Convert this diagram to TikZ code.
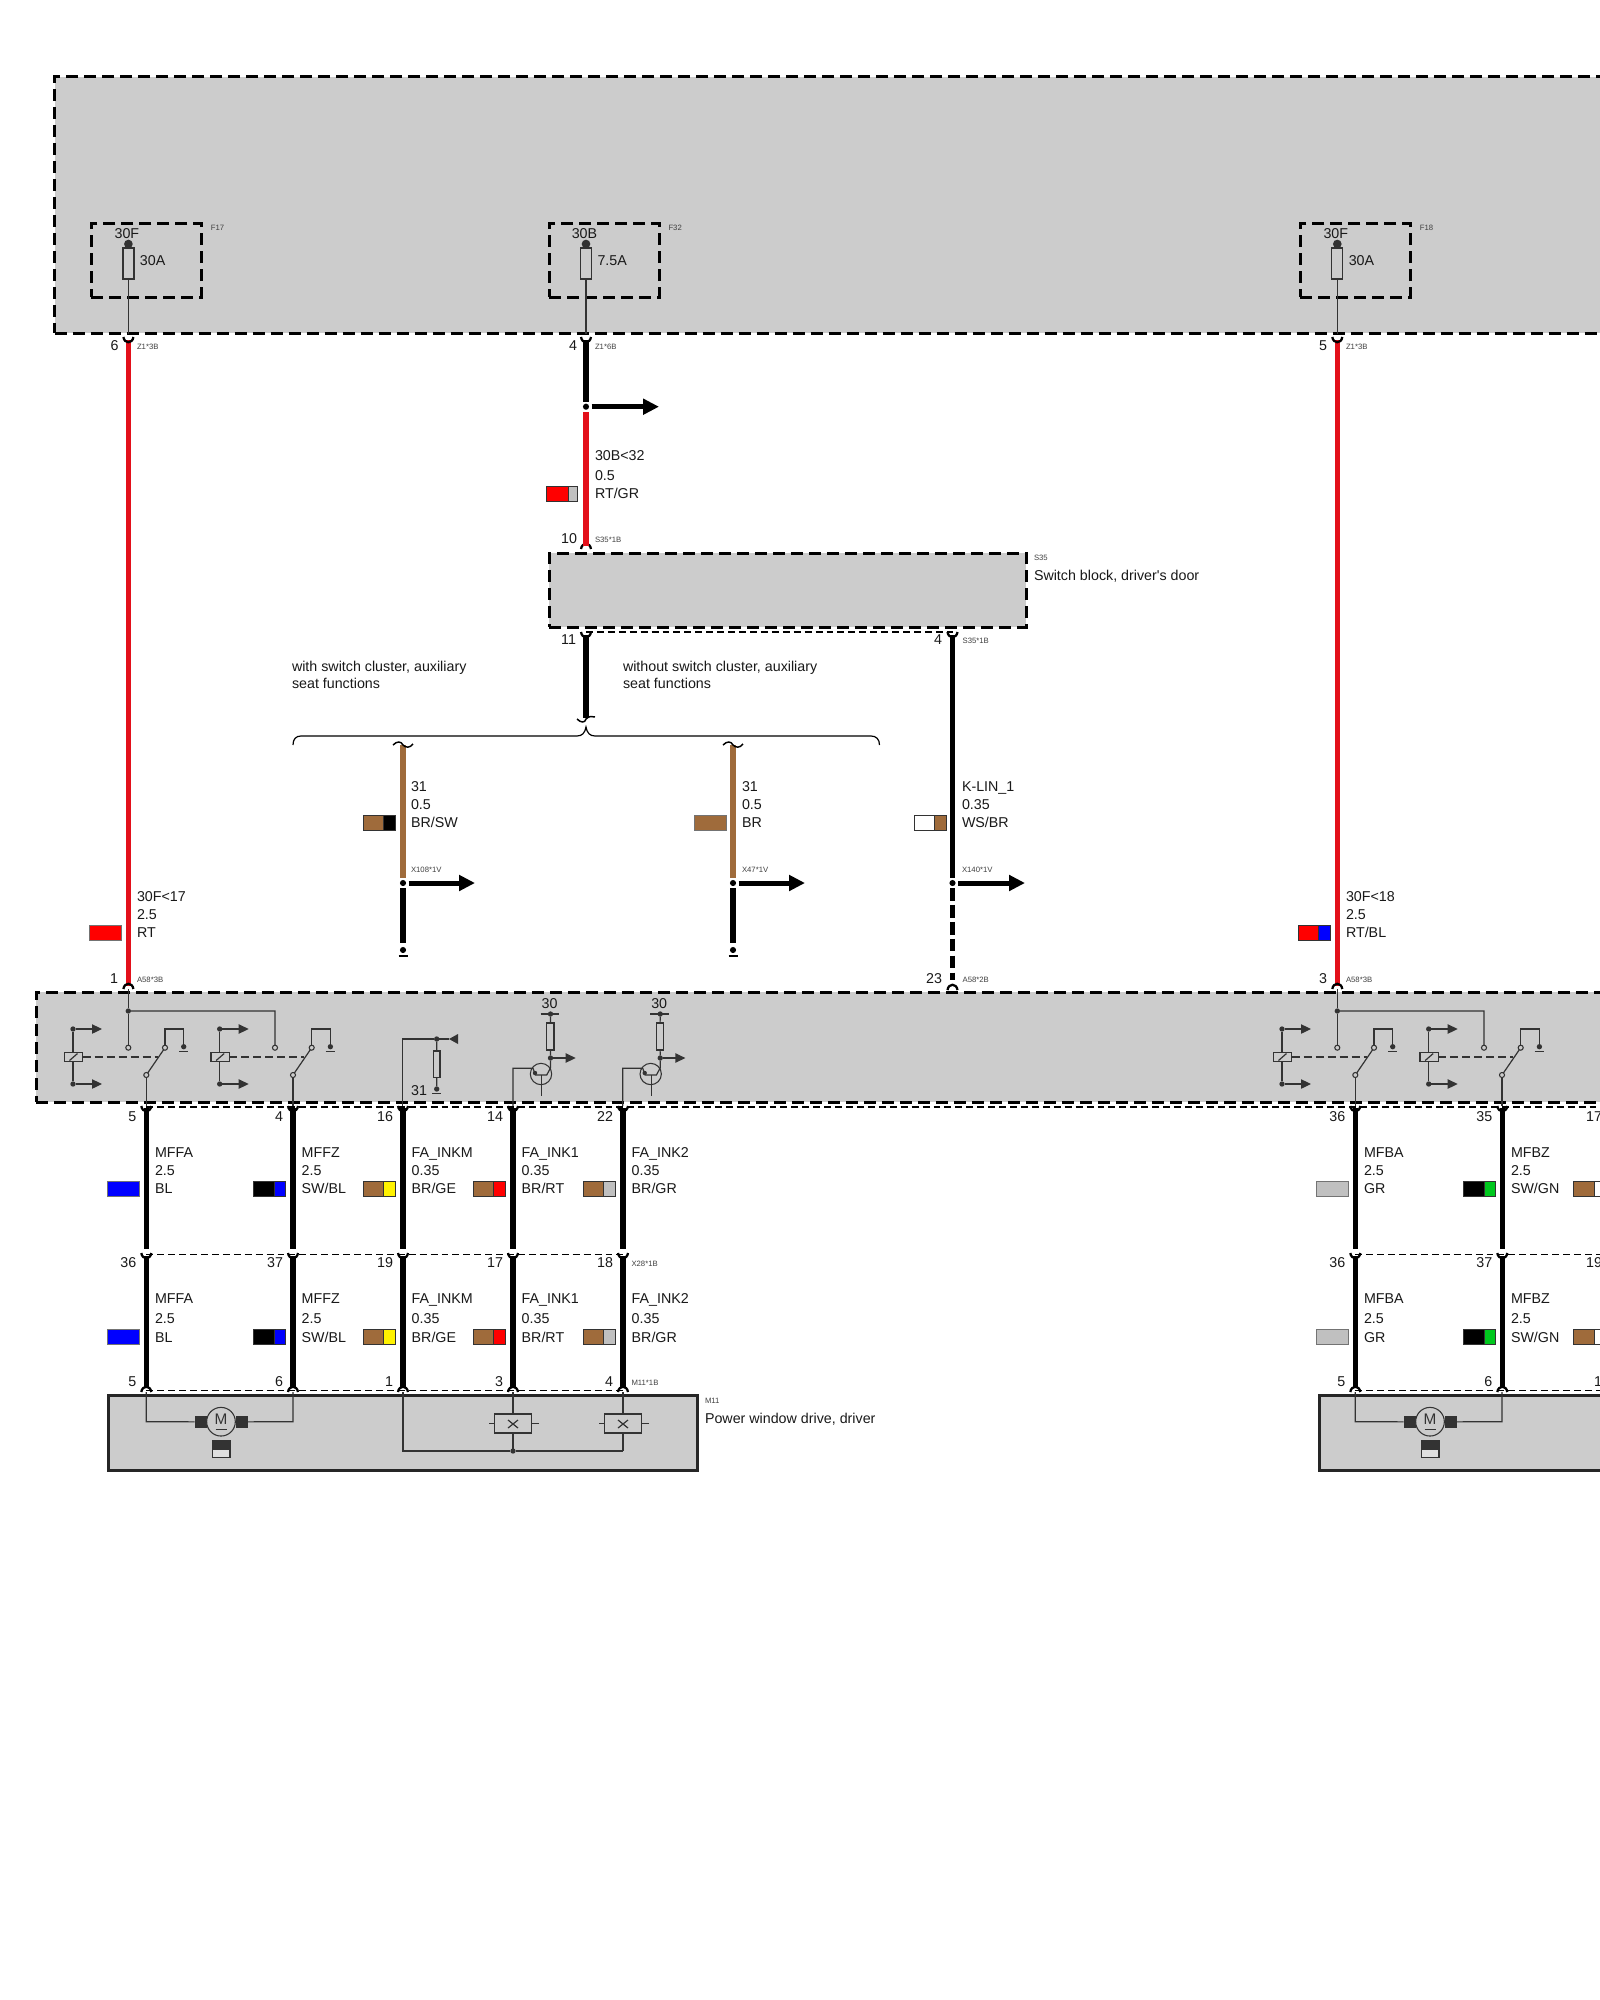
\documentclass[tikz,border=0pt]{standalone}
\usepackage{fontspec}
\newfontfamily\arialf{Liberation Sans}
\usetikzlibrary{arrows.meta}
\definecolor{boxgray}{HTML}{CCCCCC}
\definecolor{wirered}{HTML}{E3101A}
\definecolor{wirebrown}{HTML}{9F6B3B}
\definecolor{inkgray}{HTML}{333333}
\definecolor{swgray}{HTML}{C0C0C0}
\definecolor{swgreen}{HTML}{00C81E}
\tikzset{
 txt/.style={inner sep=0pt,outer sep=0pt,anchor=west,text height=7.6pt,text depth=0pt,font=\arialf\fontsize{10.7}{12}\selectfont,text=black!90},
 numr/.style={txt,anchor=east},
 numc/.style={txt,anchor=center},
 tiny/.style={inner sep=0pt,outer sep=0pt,anchor=west,text height=4.3pt,text depth=0pt,font=\arialf\fontsize{5.8}{7}\selectfont,text=black!75},
 dashbox/.style={draw=black,fill=boxgray,line width=2.25pt,dash pattern=on 9pt off 4.5pt,inner sep=0pt,outer sep=0pt},
 solidbox/.style={draw=black!85,fill=boxgray,line width=2.25pt,inner sep=0pt,outer sep=0pt},
 plainbox/.style={draw=inkgray,fill=boxgray,line width=0.9pt,inner sep=0pt,outer sep=0pt},
 blackw/.style={draw=black,line width=4.1pt},
 redw/.style={draw=wirered,line width=4.1pt},
 brownw/.style={draw=wirebrown,line width=4.1pt},
 thinw/.style={draw=inkgray,line width=0.9pt},
 thindash/.style={draw=black,line width=0.8pt,dash pattern=on 5.2pt off 3pt},
 reldash/.style={draw=inkgray,line width=0.8pt,dash pattern=on 6pt off 3pt},
 plugline/.style={draw=black,line width=1.7pt},
 bigarrow/.style={draw=black,line width=3.75pt,-{Triangle[length=12pt,width=11.5pt]}},
 smallarrow/.style={draw=inkgray,line width=0.9pt,-{Triangle[length=7.5pt,width=7pt]}},
 dotn/.style={circle,fill=#1,inner sep=0pt,minimum size=4.6pt,outer sep=0pt},
 dotn/.default=black,
 condot/.style={circle,fill=inkgray,inner sep=0pt,minimum size=4pt,outer sep=0pt},
 contact/.style={circle,draw=inkgray,fill=boxgray,line width=0.8pt,inner sep=0pt,minimum size=3.8pt,outer sep=0pt},
}
% box from corner to corner, in pixels
\newcommand{\bx}[6]{%
 \pgfmathsetmacro{\bxw}{((#5)-(#3))*0.75}\pgfmathsetmacro{\bxh}{((#6)-(#4))*0.75}%
 \pgfmathsetmacro{\bxx}{((#3)+(#5))/2}\pgfmathsetmacro{\bxy}{((#4)+(#6))/2}%
 \node[#2,minimum width=\bxw pt,minimum height=\bxh pt] (#1) at (\bxx,\bxy) {};}
\newcommand{\plugU}[2]{\draw[plugline] ({#1-5},{#2-5}) .. controls ({#1-4},{#2+2}) and ({#1+4},{#2+2}) .. ({#1+5},{#2-5});}
\newcommand{\plugN}[2]{\draw[plugline] ({#1-5},{#2+6}) .. controls ({#1-4},{#2-1}) and ({#1+4},{#2-1}) .. ({#1+5},{#2+6});}
\newcommand{\swatch}[6]{% x,y top, split offset, c1, c2 ,w
 \fill[#4] (#1,#2) rectangle ({#1+#3},{#2+15});
 \fill[#5] ({#1+#3},#2) rectangle ({#1+#6},{#2+15});
 \draw[black!80,line width=0.7pt] (#1,#2) rectangle ({#1+#6},{#2+15});
 \draw[black!80,line width=0.7pt] ({#1+#3},#2) -- ({#1+#3},{#2+15});}
\newcommand{\swatchone}[3]{%
 \fill[#3] (#1,#2) rectangle ({#1+32},{#2+15});
 \draw[black!55,line width=0.7pt] (#1,#2) rectangle ({#1+32},{#2+15});}
\newcommand{\wlab}[8]{% name,x,y1,y2,y3,a,b,c
 \node[txt] (#1a) at ({#2},#3) {#6};
 \node[txt] (#1b) at ({#2},#4) {#7};
 \node[txt] (#1c) at ({#2},#5) {#8};}
\newcommand{\fusebx}[6]{% name,wire x,terminal,rating,label,bottom connector label
 \bx{#1box}{dashbox,fill=none}{#2-37}{223}{#2+73}{297}
 \coordinate (#1t) at (#2,244);
 \coordinate (#1e) at (#2,334);
 \node[condot,minimum size=6.5pt] (#1d) at (#1t) {};
 \bx{#1f}{plainbox}{#2-5.5}{248}{#2+5.5}{279}
 \draw[thinw] (#1f.south) -- (#1e);
 \node[numc] (#1n) at ({#2-1.5},233) {#3};
 \node[txt] (#1r) at ({#2+11.5},260.5) {#4};
 \node[tiny] (#1l) at ({#2+82.5},228) {#5};}
\newcommand{\relay}[2]{%
 \begin{scope}[shift={(#2,0)}]
 \node[condot] (#1ct) at (73,1029) {};
 \node[condot] (#1cb) at (73,1084) {};
 \coordinate (#1at) at (102,1029);
 \coordinate (#1ab) at (102,1084);
 \draw[thinw] (#1ct) -- (#1cb);
 \draw[smallarrow] (#1ct) -- (#1at);
 \draw[smallarrow] (#1cb) -- (#1ab);
 \bx{#1coil}{plainbox}{64.3}{1052.3}{82.7}{1061.7}
 \draw[thinw] (69.5,1060.5) -- (77.5,1053.5);
 \node[contact] (#1fix) at (128.3,1047.7) {};
 \node[contact] (#1sb) at (146.3,1075) {};
 \node[contact] (#1st) at (165,1047.7) {};
 \coordinate (#1kink) at (165,1029);
 \coordinate (#1kink2) at (183.7,1029);
 \node[condot] (#1g) at (183.7,1046.7) {};
 \coordinate (#1gl) at (179,1051.5);
 \coordinate (#1gr) at (188,1051.5);
 \coordinate (#1dashe) at (157.5,1057);
 \coordinate (#1out) at (146.3,1106);
 \draw[reldash] (#1coil.east) -- (#1dashe);
 \draw[thinw] (#1sb) -- (#1st);
 \draw[thinw] (#1sb) -- (#1out);
 \draw[thinw] (#1st) -- (#1kink) -- (#1kink2) -- (#1g);
 \draw[thinw] (#1gl) -- (#1gr);
 \end{scope}}
\newcommand{\tbase}[2]{% name, dx
 \begin{scope}[shift={(#2,0)}]
 \coordinate (#1w) at (513,1106);
 \coordinate (#1k) at (513,1068.3);
 \coordinate (#1b) at (533,1068.3);
 \coordinate (#1e1) at (535.5,1075);
 \coordinate (#1e2) at (546.7,1075);
 \coordinate (#1c) at (550.5,1068);
 \node[condot] (#1j) at (550.5,1058) {};
 \node[condot] (#1top) at (550.5,1014) {};
 \coordinate (#1bl) at (540.7,1014);
 \coordinate (#1br) at (559,1014);
 \coordinate (#1stub) at (541.7,1096);
 \coordinate (#1stubt) at (541.7,1075);
 \coordinate (#1tip) at (575.7,1058);
 \bx{#1res}{plainbox}{546.6}{1023}{554}{1050}
 \node[circle,draw=inkgray,line width=0.8pt,inner sep=0pt,minimum size=16pt] (#1ring) at (541,1074) {};
 \draw[thinw] (#1w) -- (#1k) -- (#1b) -- (#1e1) -- (#1e2) -- (#1c) -- (#1j);
 \draw[thinw] (#1j) -- (#1res);
 \draw[thinw] (#1res) -- (#1top);
 \draw[thinw] (#1bl) -- (#1br);
 \draw[thinw] (#1stubt) -- (#1stub);
 \draw[smallarrow] (#1j) -- (#1tip);
 \fill[inkgray] (535,1073) circle[radius=2.2];
 \node[numc] (#1v) at (549.5,1003) {30};
 \end{scope}}
\newcommand{\lane}[5]{% name,x,top no,mid no,bottom no
 \coordinate (#1a) at (#2,1108);
 \coordinate (#1b) at (#2,1249);
 \coordinate (#1c) at (#2,1256);
 \coordinate (#1d) at (#2,1387);
 \draw[blackw] (#1a) -- (#1b);
 \draw[blackw] (#1c) -- (#1d);
 \plugU{#2}{1111}
 \plugU{#2}{1258}
 \plugN{#2}{1386}
 \node[numr] (#1n1) at ({#2-10},1116) {#3};
 \node[numr] (#1n2) at ({#2-10},1262) {#4};
 \node[numr] (#1n3) at ({#2-10},1381) {#5};}
\newcommand{\lanetext}[5]{% name,x,a,b,c
 \wlab{#1u}{#2+8.7}{1152}{1170}{1188}{#3}{#4}{#5}
 \wlab{#1l}{#2+8.7}{1298}{1318}{1337}{#3}{#4}{#5}}
\newcommand{\motor}[2]{%
 \begin{scope}[shift={(#2,0)}]
 \coordinate (#1l) at (146.3,1392);
 \coordinate (#1lk) at (146.3,1421.7);
 \coordinate (#1r) at (293,1392);
 \coordinate (#1rk) at (293,1421.7);
 \bx{#1bl}{draw=none,fill=inkgray}{195}{1415.7}{207}{1428}
 \bx{#1br}{draw=none,fill=inkgray}{235.5}{1415.7}{247.6}{1428}
 \node[circle,draw=inkgray,fill=boxgray,line width=0.8pt,inner sep=0pt,minimum size=21.5pt] (#1m) at (221,1421.7) {};
 \node[numc,font=\arialf\fontsize{11.5}{12}\selectfont,text=inkgray] (#1mt) at (221,1419) {M};
 \coordinate (#1u1) at (215.5,1429.2);
 \coordinate (#1u2) at (226.5,1429.2);
 \draw[thinw] (#1u1) -- (#1u2);
 \draw[thinw] (#1l) -- (#1lk) -- (#1bl.west);
 \draw[thinw] (#1r) -- (#1rk) -- (#1br.east);
 \bx{#1ps}{plainbox,fill=boxgray!60!white}{212.4}{1440.7}{230}{1457.7}
 \fill[inkgray] (212.4,1440.7) rectangle (230,1449.5);
 \end{scope}}
\newcommand{\sensor}[2]{% name,x
 \bx{#1}{plainbox}{#2-18.3}{1414}{#2+18.3}{1433}
 \coordinate (#1sl) at ({#2-24},1423.5);
 \coordinate (#1sr) at ({#2+26},1423.5);
 \coordinate (#1top) at (#2,1392);
 \coordinate (#1low) at (#2,1451);
 \draw[thinw] (#1top) -- (#1.north);
 \draw[thinw] (#1.south) -- (#1low);
 \draw[thinw] (#1sl) -- (#1.west);
 \draw[thinw] (#1sr) -- (#1.east);
 \draw[thinw] ({#2-5},1420) -- ({#2+5},1428);
 \draw[thinw] ({#2-5},1428) -- ({#2+5},1420);}
\begin{document}
\begin{tikzpicture}[x=0.75pt,y=-0.75pt]
\useasboundingbox (0,0) rectangle (1600,2000);
\clip (0,0) rectangle (1600,2000);
\fill[white] (0,0) rectangle (1600,2000);

% main boxes
\bx{Ztop}{dashbox}{54.5}{76.5}{1720}{333}
\bx{Asw}{dashbox}{549.4}{553}{1026}{627}
\bx{Actl}{dashbox}{36}{992}{1720}{1102}
\node[tiny] (S35t) at (1034,558) {S35};
\node[txt] (S35n) at (1034,575) {Switch block, driver's door};

% fuses
\fusebx{fa}{128.4}{30F}{30A}{F17}{}
\fusebx{fb}{586}{30B}{7.5A}{F32}{}
\fusebx{fc}{1337.3}{30F}{30A}{F18}{}

% connector labels, top
\node[numr] (n6) at (118.5,345) {6};
\node[tiny] (c1) at (137,347) {Z1*3B};
\node[numr] (n4) at (577,345) {4};
\node[tiny] (c2) at (595,347) {Z1*6B};
\node[numr] (n5) at (1327,345) {5};
\node[tiny] (c3) at (1346,347) {Z1*3B};

% long red wires
\coordinate (w1t) at (128.4,340);
\coordinate (w1b) at (128.4,986);
\coordinate (w3t) at (1337.3,340);
\coordinate (w3b) at (1337.3,986);
\draw[redw] (w1t) -- (w1b);
\draw[redw] (w3t) -- (w3b);
\plugU{128.4}{342}\plugU{586}{342}\plugU{1337.3}{342}
\plugN{128.4}{983}\plugN{1337.3}{983}\plugN{586}{543}\plugN{952.5}{984}
\wlab{wa}{137}{896}{914}{932}{30F<17}{2.5}{RT}
\swatchone{89}{925}{red}
\wlab{wc}{1346}{896}{914}{932}{30F<18}{2.5}{RT/BL}
\swatch{1298}{925}{20}{red}{blue}{32}
\node[numr] (n1) at (118,978) {1};
\node[tiny] (c4) at (137,980) {A58*3B};
\node[numr] (n3) at (1327,978) {3};
\node[tiny] (c5) at (1346,980) {A58*3B};

% 30B wire
\coordinate (w2t) at (586,340);
\node[dotn] (j2) at (586,406.7) {};
\coordinate (j2u) at (586,402);
\coordinate (j2d) at (586,412);
\coordinate (w2b) at (586,546);
\coordinate (a2s) at (591.5,406.7);
\coordinate (a2e) at (659,406.7);
\draw[blackw] (w2t) -- (j2u);
\draw[redw] (j2d) -- (w2b);
\draw[bigarrow] (a2s) -- (a2e);
\wlab{wb}{595}{455}{475}{493}{30B<32}{0.5}{RT/GR}
\swatch{546}{486}{22}{red}{swgray}{31.5}
\node[numr] (n10) at (577,538) {10};
\node[tiny] (c6) at (595,540) {S35*1B};

% under S35
\coordinate (d1a) at (586,632);
\coordinate (d1b) at (952.5,632);
\draw[thindash] (d1a) -- (d1b);
\coordinate (w4t) at (586,635);
\coordinate (w4b) at (586,718);
\draw[blackw] (w4t) -- (w4b);
\plugU{586}{637}\plugU{952.5}{637}
\node[numr] (n11) at (576,639) {11};
\node[numr] (n42) at (942,639) {4};
\node[tiny] (c7) at (962.6,641) {S35*1B};
\draw[line width=1.1pt,black] (577,719) .. controls (581,723) and (585,723) .. (586,719) .. controls (589,716) and (592,716) .. (595,717);
\node[txt] (ta1) at (292,666) {with switch cluster, auxiliary};
\node[txt] (ta2) at (292,683) {seat functions};
\node[txt] (tb1) at (623,666) {without switch cluster, auxiliary};
\node[txt] (tb2) at (623,683) {seat functions};
% brace
\draw[black,line width=0.9pt] (293,745) .. controls (293,739) and (296,736) .. (301,736) -- (577,736) .. controls (582,736) and (585,733) .. (586,727) .. controls (587,733) and (590,736) .. (595,736) -- (871,736) .. controls (876,736) and (879.5,739) .. (879.5,745);

% brown wires
\newcommand{\brownrun}[2]{%
 \coordinate (#1t) at (#2,745);
 \coordinate (#1b) at (#2,878);
 \node[dotn] (#1j) at (#2,883) {};
 \coordinate (#1as) at ({#2+5.5},883);
 \coordinate (#1ae) at ({#2+72},883);
 \coordinate (#1ct) at (#2,888);
 \coordinate (#1cb) at (#2,943);
 \node[dotn] (#1e) at (#2,950) {};
 \draw[brownw] (#1t) -- (#1b);
 \draw[bigarrow] (#1as) -- (#1ae);
 \draw[blackw] (#1ct) -- (#1cb);
 \draw[black,line width=2.2pt] ({#2-4.5},956) -- ({#2+4.5},956);
 \draw[line width=1.1pt,black] ({#2-10},745) .. controls ({#2-6},741) and ({#2-2},741) .. (#2,745) .. controls ({#2+3},748) and ({#2+7},748) .. ({#2+10},744);}
\brownrun{ba}{403}
\brownrun{bb}{733}
\wlab{wd}{411}{786}{804}{822}{31}{0.5}{BR/SW}
\swatch{363}{815}{20}{wirebrown}{black}{32}
\wlab{we}{742}{786}{804}{822}{31}{0.5}{BR}
\swatchone{694}{815}{wirebrown}
\node[tiny] (c8) at (411,870) {X108*1V};
\node[tiny] (c9) at (742,870) {X47*1V};

% K-LIN wire
\coordinate (w5t) at (952.5,635);
\coordinate (w5b) at (952.5,878);
\node[dotn] (j5) at (952.5,883) {};
\coordinate (a5s) at (958,883);
\coordinate (a5e) at (1025,883);
\coordinate (w5c) at (952.5,888);
\coordinate (w5d) at (952.5,980);
\draw[blackw] (w5t) -- (w5b);
\draw[bigarrow] (a5s) -- (a5e);
\draw[blackw,dash pattern=on 9.5pt off 3.2pt] (w5c) -- (w5d);
\wlab{wf}{962}{786}{804}{822}{K-LIN\_1}{0.35}{WS/BR}
\swatch{914}{815}{20}{white}{wirebrown}{32}
\node[tiny] (c10) at (962,870) {X140*1V};
\node[numr] (n23) at (942,978) {23};
\node[tiny] (c11) at (962.6,980) {A58*2B};

% control unit internals
\relay{ra}{0}
\relay{rb}{146.7}
\relay{rc}{1209}
\relay{rd}{1355.7}
\node[condot] (ja) at (128.3,1011) {};
\coordinate (jak) at (275,1011);
\coordinate (jat) at (128.3,989);
\draw[thinw] (jat) -- (ja) -- (rafix);
\draw[thinw] (ja) -- (jak) -- (rbfix);
\node[condot] (jc) at (1337.3,1011) {};
\coordinate (jck) at (1484,1011);
\coordinate (jct) at (1337.3,989);
\draw[thinw] (jct) -- (jc) -- (rcfix);
\draw[thinw] (jc) -- (jck) -- (rdfix);

\coordinate (pw) at (402.7,1106);
\coordinate (pk) at (402.7,1039);
\node[condot] (pj) at (436.7,1039) {};
\coordinate (ptip) at (449,1039);
\bx{pres}{plainbox}{433.5}{1051}{440}{1077.7}
\node[condot] (pg) at (436.7,1089) {};
\coordinate (pgl) at (432,1093.5);
\coordinate (pgr) at (441,1093.5);
\draw[thinw] (pw) -- (pk) -- (pj);
\draw[thinw] (pj) -- (ptip);
\fill[inkgray] (449,1039) -- (458,1034) -- (458,1044) -- cycle;
\draw[thinw] (pj) -- (pres);
\draw[thinw] (pres) -- (pg);
\draw[thinw] (pgl) -- (pgr);
\node[numr] (p31) at (427,1090) {31};
\tbase{ta}{0}
\tbase{tb}{109.7}

% thin dashed connector lines
\coordinate (q1a) at (146.3,1107);\coordinate (q1b) at (1720,1107);
\draw[thindash] (q1a) -- (q1b);
\coordinate (q2a) at (146.3,1254.3);\coordinate (q2b) at (623,1254.3);
\draw[thindash] (q2a) -- (q2b);
\coordinate (q3a) at (1355.3,1254.3);\coordinate (q3b) at (1720,1254.3);
\draw[thindash] (q3a) -- (q3b);
\coordinate (q4a) at (146.3,1390.5);\coordinate (q4b) at (623,1390.5);
\draw[thindash] (q4a) -- (q4b);
\coordinate (q5a) at (1355.3,1390.5);\coordinate (q5b) at (1720,1390.5);
\draw[thindash] (q5a) -- (q5b);

% wire lanes
\lane{la}{146.3}{5}{36}{5}
\lane{lb}{293}{4}{37}{6}
\lane{lc}{403}{16}{19}{1}
\lane{ld}{513}{14}{17}{3}
\lane{le}{623}{22}{18}{4}
\lane{lf}{1355.3}{36}{36}{5}
\lane{lg}{1502.3}{35}{37}{6}
\lane{lh}{1612}{17}{19}{1}
\lanetext{la}{146.3}{MFFA}{2.5}{BL}
\lanetext{lb}{293}{MFFZ}{2.5}{SW/BL}
\lanetext{lc}{403}{FA\_INKM}{0.35}{BR/GE}
\lanetext{ld}{513}{FA\_INK1}{0.35}{BR/RT}
\lanetext{le}{623}{FA\_INK2}{0.35}{BR/GR}
\lanetext{lf}{1355.3}{MFBA}{2.5}{GR}
\lanetext{lg}{1502.3}{MFBZ}{2.5}{SW/GN}
\foreach \yy in {1181,1329}{
 \swatchone{107}{\yy}{blue}
 \swatch{253}{\yy}{21}{black}{blue}{32}
 \swatch{363.5}{\yy}{20}{wirebrown}{yellow}{32}
 \swatch{473.5}{\yy}{20}{wirebrown}{red}{32}
 \swatch{583.5}{\yy}{20}{wirebrown}{swgray}{32}
 \swatchone{1316}{\yy}{swgray}
 \swatch{1463}{\yy}{21}{black}{swgreen}{32}
 \swatch{1573}{\yy}{21}{wirebrown}{white}{32}
}
\node[tiny] (c12) at (631.5,1264) {X28*1B};
\node[tiny] (c13) at (631.5,1383) {M11*1B};

% M11 boxes
\bx{Mdrv}{solidbox}{108.5}{1395}{697}{1470}
\bx{Mpas}{solidbox}{1319}{1395}{1720}{1470}
\node[tiny] (M11t) at (705,1401) {M11};
\node[txt] (M11n) at (705,1418) {Power window drive, driver};
\motor{ma}{0}
\motor{mb}{1209}
\sensor{sa}{513}
\sensor{sb}{623}
\coordinate (sc) at (403,1392);
\coordinate (sd) at (403,1451);
\node[condot] (se) at (513,1451) {};
\draw[thinw] (sc) -- (sd) -- (se) -- (sblow);
\end{tikzpicture}
\end{document}
